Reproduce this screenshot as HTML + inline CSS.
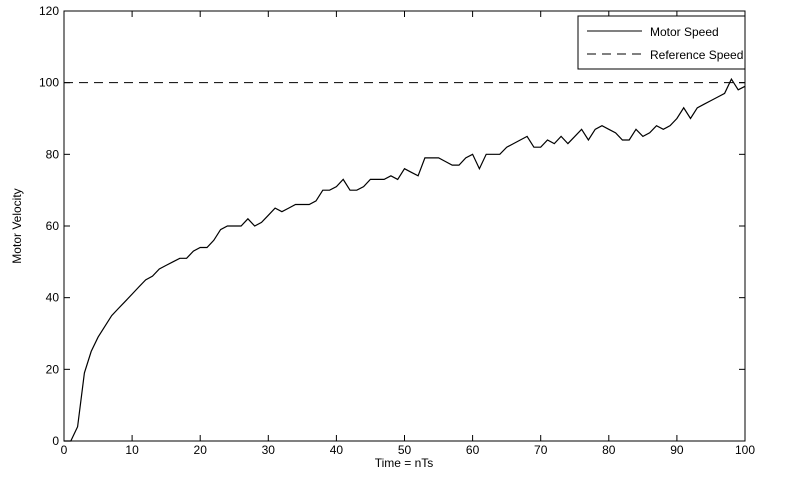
<!DOCTYPE html>
<html><head><meta charset="utf-8"><style>
body{margin:0;background:#fff;font-family:"Liberation Sans",Arial,sans-serif;}
svg text{font-family:"Liberation Sans",Arial,sans-serif;font-size:12px;fill:#000;}
</style></head><body>
<svg id="chart" width="804" height="494" xmlns="http://www.w3.org/2000/svg">
<rect x="0" y="0" width="804" height="494" fill="#fff"/>
<g id="axes"></g>
<g id="marks"></g>
<g id="legend">
<rect x="578" y="16" width="167" height="53" fill="#fff" stroke="#000" stroke-width="1"/>
<line x1="587" y1="31" x2="642" y2="31" stroke="#000" stroke-width="1"/>
<text x="650" y="36">Motor Speed</text>
<line x1="587" y1="54" x2="642" y2="54" stroke="#000" stroke-width="1" stroke-dasharray="9,6"/>
<text x="650" y="59">Reference Speed</text>
</g>
<text x="404" y="467" text-anchor="middle">Time = nTs</text>
<text x="21" y="226" text-anchor="middle" transform="rotate(-90 21 226)">Motor Velocity</text>
</svg>
<script>
const xTicks=[0,10,20,30,40,50,60,70,80,90,100];
const yTicks=[0,20,40,60,80,100,120];
const motorSpeed=[0,0,4,19,25,29,32,35,37,39,41,43,45,46,48,49,50,51,51,53,54,54,56,59,60,60,60,62,60,61,63,65,64,65,66,66,66,67,70,70,71,73,70,70,71,73,73,73,74,73,76,75,74,79,79,79,78,77,77,79,80,76,80,80,80,82,83,84,85,82,82,84,83,85,83,85,87,84,87,88,87,86,84,84,87,85,86,88,87,88,90,93,90,93,94,95,96,97,101,98,99];
const referenceSpeed=[100];
const X0=64,X1=745,Y0=441,Y1=11;
const sx=v=>X0+(v-0)/100*(X1-X0);
const sy=v=>Y0-(v-0)/120*(Y0-Y1);
const NS="http://www.w3.org/2000/svg";
const axes=document.getElementById('axes'),marks=document.getElementById('marks');
function mk(tag,at,parent){const e=document.createElementNS(NS,tag);for(const k in at)e.setAttribute(k,at[k]);parent.appendChild(e);return e;}
const frame=mk('rect',{x:X0,y:Y1,width:X1-X0,height:Y0-Y1,fill:'none',stroke:'#000','stroke-width':1},axes);


xTicks.forEach(t=>{const x=sx(t);
mk('line',{x1:x,y1:Y0,x2:x,y2:Y0-6,stroke:'#000'},axes);
mk('line',{x1:x,y1:Y1,x2:x,y2:Y1+6,stroke:'#000'},axes);
const tx=mk('text',{x:x,y:Y0+13,'text-anchor':'middle'},axes);tx.textContent=t;

});
yTicks.forEach(t=>{const y=sy(t);
mk('line',{x1:X0,y1:y,x2:X0+6,y2:y,stroke:'#000'},axes);
mk('line',{x1:X1,y1:y,x2:X1-6,y2:y,stroke:'#000'},axes);
const tx=mk('text',{x:X0-5,y:y+4,'text-anchor':'end'},axes);tx.textContent=t;

});
const ref=mk('line',{x1:sx(0),y1:sy(referenceSpeed[0]),x2:sx(100),y2:sy(referenceSpeed[0]),stroke:'#000','stroke-dasharray':'9,6'},marks);


const pts=motorSpeed.map((v,i)=>sx(i).toFixed(1)+','+sy(v).toFixed(1)).join(' ');
const ln=mk('polyline',{points:pts,fill:'none',stroke:'#000','stroke-width':1.2},marks);


</script>
</body></html>
